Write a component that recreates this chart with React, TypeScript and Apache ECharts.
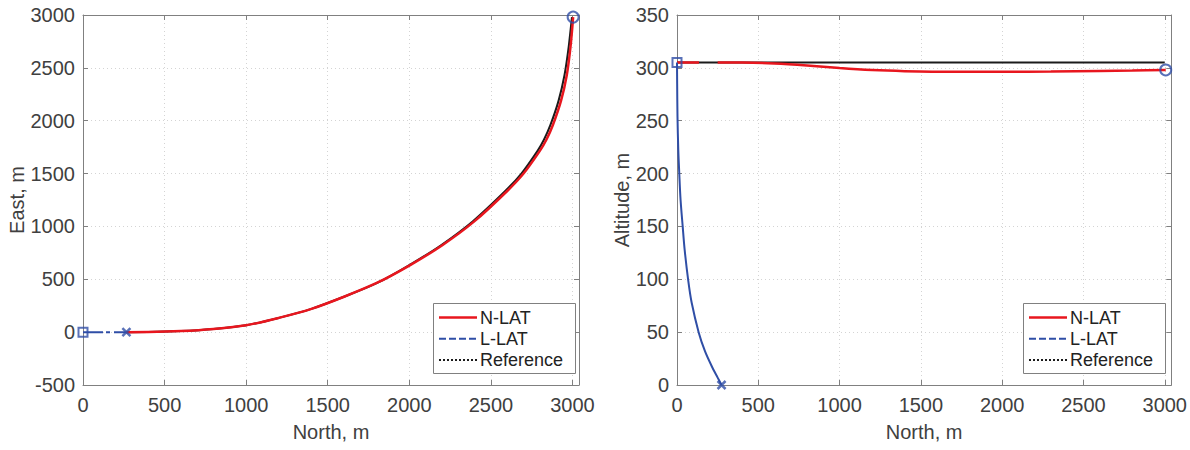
import React, { useEffect, useRef } from "react";
import * as echarts from "echarts";

// ---- data ----
// Left panel: North (x) vs East (y)
const nlatNorthEast: [number, number][] = [
  [266, 0], [400, 1], [600, 10], [800, 30], [1000, 65], [1200, 135], [1400, 220],
  [1600, 335], [1800, 465], [2000, 630], [2200, 820], [2400, 1050], [2600, 1335],
  [2700, 1500], [2800, 1715], [2840, 1820], [2880, 1960], [2930, 2190], [2965, 2430], [2988, 2700], [3004, 2980],
];
const referenceNorthEast: [number, number][] = [
  [266, 0], [400, 1], [600, 10], [800, 30], [1000, 65], [1200, 135], [1400, 220],
  [1600, 335], [1800, 463], [1995, 630], [2192, 820], [2390, 1050], [2588, 1335],
  [2687, 1500], [2786, 1715], [2825, 1820], [2865, 1960], [2915, 2190], [2951, 2430], [2977, 2700], [2997, 2980],
];
const llatNorthEast: [number, number][] = [[0, 0], [266, 0]];

// Right panel: North (x) vs Altitude (y)
const nlatNorthAltLead: [number, number][] = [[0, 305], [135, 305]];
const nlatNorthAlt: [number, number][] = [
  [250, 305], [400, 305], [600, 304.2], [800, 302.3], [1000, 299.8], [1200, 297.9],
  [1400, 296.9], [1700, 296.3], [2000, 296.3], [2300, 296.5], [2600, 297], [2800, 297.4], [3006, 298],
];
const referenceNorthAlt: [number, number][] = [[0, 305], [3000, 305]];
const llatNorthAlt: [number, number][] = [
  [0, 305], [1, 285], [3, 254], [8, 222], [14, 200], [22, 175], [35, 150], [47, 128],
  [69, 99], [90, 78], [133, 50], [172, 32], [213, 18], [250, 7], [274, 0],
];

// Markers
const startMarkLeft: [number, number][] = [[0, 0]];
const llatEndLeft: [number, number][] = [[266, 0]];
const nlatEndLeft: [number, number][] = [[3004, 2980]];
const startMarkRight: [number, number][] = [[0, 305]];
const llatEndRight: [number, number][] = [[274, 0]];
const nlatEndRight: [number, number][] = [[3006, 298]];

// Axis ranges / labels
const northRange = { min: 0, max: 3040, interval: 500 };
const eastRange = { min: -500, max: 3000, interval: 500 };
const altRange = { min: 0, max: 350, interval: 50 };
const legendLabels = ["N-LAT", "L-LAT", "Reference"];

// ---- styles ----
const FONT = "'Liberation Sans', Arial, Helvetica, sans-serif";
const AXIS_COLOR = "#808080";
const LABEL_COLOR = "#404040";
const RED = "#e8161e";
const BLUE = "#2f4ea6";
const BLACK = "#1b1b1b";
const GRID_COLOR = "#d4d4d4";
const FS = 20;

const xAxisPair = (gridIndex: number) => [
  {
    type: "value", gridIndex, position: "bottom", ...northRange,
    name: "North, m", nameLocation: "middle", nameGap: 37,
    nameTextStyle: { fontSize: FS, color: LABEL_COLOR, fontFamily: FONT },
    axisLine: { show: true, onZero: false, lineStyle: { color: AXIS_COLOR, width: 1 } },
    axisTick: { show: true, inside: true, length: 5, lineStyle: { color: AXIS_COLOR } },
    axisLabel: {
      margin: 10, fontSize: FS, color: LABEL_COLOR, fontFamily: FONT, showMaxLabel: false,
      formatter: (v: number) => (v % 500 === 0 ? String(v) : ""),
    },
    splitLine: { show: true, lineStyle: { color: GRID_COLOR, type: [1, 3], width: 1 } },
  },
  {
    type: "value", gridIndex, position: "top", ...northRange,
    axisLine: { show: true, onZero: false, lineStyle: { color: AXIS_COLOR, width: 1 } },
    axisTick: { show: true, inside: true, length: 5, lineStyle: { color: AXIS_COLOR } },
    axisLabel: { show: false },
    splitLine: { show: false },
  },
];

const yAxisPair = (gridIndex: number, range: any, name: string, nameGap: number) => [
  {
    type: "value", gridIndex, position: "left", ...range,
    name, nameLocation: "middle", nameGap,
    nameTextStyle: { fontSize: FS, color: LABEL_COLOR, fontFamily: FONT },
    axisLine: { show: true, onZero: false, lineStyle: { color: AXIS_COLOR, width: 1 } },
    axisTick: { show: true, inside: true, length: 5, lineStyle: { color: AXIS_COLOR } },
    axisLabel: { margin: 8, fontSize: FS, color: LABEL_COLOR, fontFamily: FONT, formatter: (v: number) => String(v) },
    splitLine: { show: true, lineStyle: { color: GRID_COLOR, type: [1, 3], width: 1 } },
  },
  {
    type: "value", gridIndex, position: "right", ...range,
    axisLine: { show: true, onZero: false, lineStyle: { color: AXIS_COLOR, width: 1 } },
    axisTick: { show: true, inside: true, length: 5, lineStyle: { color: AXIS_COLOR } },
    axisLabel: { show: false },
    splitLine: { show: false },
  },
];

const lineSeries = (name: string, data: any, axis: number, color: string, width: number, z: number, smooth = 0.3) => ({
  type: "line", name, data, xAxisIndex: axis, yAxisIndex: axis,
  showSymbol: false, symbol: "none", smooth, z,
  lineStyle: { color, width, type: "solid" },
  emphasis: { disabled: true },
});

const X_PATH = "path://M0,0L10,10M10,0L0,10";

const markerSeries = (data: any, axis: number, symbol: string, size: number, bw = 2) => ({
  type: "scatter", data, xAxisIndex: axis, yAxisIndex: axis, symbol, symbolSize: size,
  clip: false, z: 10,
  itemStyle: { color: "rgba(0,0,0,0)", borderColor: BLUE, borderWidth: bw },
  emphasis: { disabled: true },
});

const legendGraphic = (x0: number) => {
  const y0 = 303;
  const rows = [317.5, 338.7, 360];
  const styles = [
    { stroke: RED, lineWidth: 2.5, lineDash: null as any },
    { stroke: BLUE, lineWidth: 2, lineDash: [7, 3] },
    { stroke: BLACK, lineWidth: 2, lineDash: [2, 2] },
  ];
  const els: any[] = [
    {
      type: "rect", z: 100, shape: { x: x0 + 0.5, y: y0 + 0.5, width: 142, height: 70 },
      style: { fill: "#ffffff", stroke: AXIS_COLOR, lineWidth: 1 },
    },
  ];
  legendLabels.forEach((label, i) => {
    els.push({
      type: "line", z: 101,
      shape: { x1: x0 + 6, y1: rows[i], x2: x0 + 44, y2: rows[i] },
      style: { ...styles[i] },
    });
    els.push({
      type: "text", z: 101, x: x0 + 47, y: rows[i],
      style: { text: label, fontSize: 18, fontFamily: FONT, fill: "#222222", verticalAlign: "middle", align: "left" },
    });
  });
  return els;
};

const option: any = {
  animation: false,
  backgroundColor: "#ffffff",
  grid: [
    { left: 83, top: 15, width: 496, height: 370 },
    { left: 677, top: 15, width: 496, height: 370 },
  ],
  xAxis: [...xAxisPair(0), ...xAxisPair(1)],
  yAxis: [
    ...yAxisPair(0, eastRange, "East, m", 56),
    ...yAxisPair(1, altRange, "Altitude, m", 45),
  ],
  series: [
    lineSeries("Reference", referenceNorthEast, 0, BLACK, 2, 2),
    lineSeries("N-LAT", nlatNorthEast, 0, RED, 2.5, 3),
    { ...lineSeries("L-LAT", llatNorthEast, 0, BLUE, 2, 4, 0), lineStyle: { color: BLUE, width: 2, type: [20, 3, 4, 4] } },
    lineSeries("Reference", referenceNorthAlt, 2, BLACK, 2, 2, 0),
    lineSeries("N-LAT", nlatNorthAltLead, 2, RED, 2.5, 3, 0),
    lineSeries("N-LAT", nlatNorthAlt, 2, RED, 2.5, 3),
    lineSeries("L-LAT", llatNorthAlt, 2, BLUE, 2, 4),
    markerSeries(startMarkLeft, 0, "rect", 9),
    markerSeries(llatEndLeft, 0, X_PATH, 8, 2.5),
    markerSeries(nlatEndLeft, 0, "circle", 11),
    markerSeries(startMarkRight, 2, "rect", 9),
    markerSeries(llatEndRight, 2, X_PATH, 8, 2.5),
    markerSeries(nlatEndRight, 2, "circle", 11),
  ],
  graphic: [...legendGraphic(433), ...legendGraphic(1023)],
};

export default function App() {
  const ref = useRef<HTMLDivElement>(null);
  useEffect(() => {
    document.body.style.margin = "0";
    const chart = echarts.init(ref.current!, null, { renderer: "svg" });
    chart.setOption(option);
    return () => chart.dispose();
  }, []);
  return <div ref={ref} style={{ width: 1190, height: 450 }} />;
}
